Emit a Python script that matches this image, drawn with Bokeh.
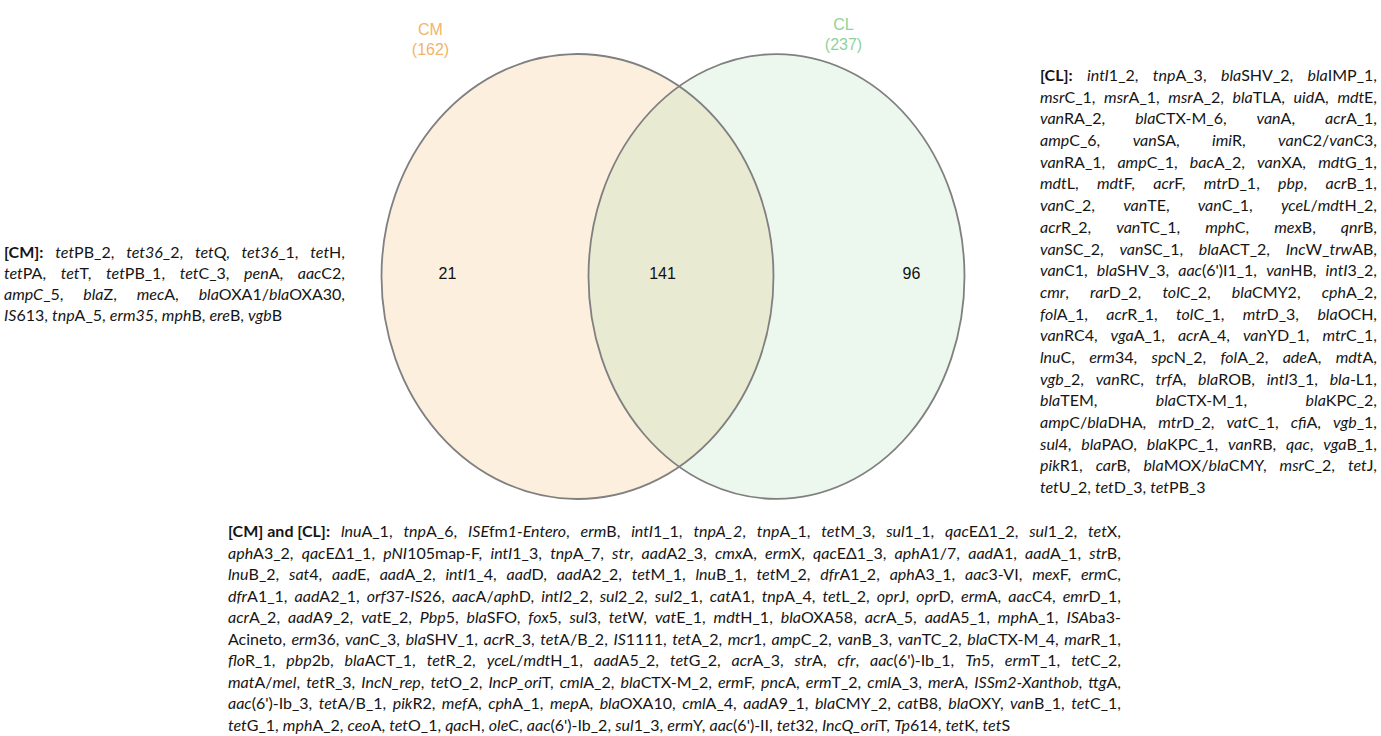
from bokeh.plotting import figure
from bokeh.models import Range1d, Div
from bokeh.layouts import row, column
from bokeh.core.properties import value
from bokeh.embed import file_html
from bokeh.resources import INLINE

# ---------------- data ----------------
set_names = ["CM", "CL"]
set_colors = ["#f2b46a", "#8fd39b"]

# genes only in CM (text between * is italic)
cm_only_lines = [
    ["*tet*PB_2", "*tet36*_2", "*tet*Q", "*tet36*_1", "*tet*H"],
    ["*tet*PA", "*tet*T", "*tet*PB_1", "*tet*C_3", "*pen*A", "*aac*C2"],
    ["*ampC*_5", "*bla*Z", "*mec*A", "*bla*OXA1/*bla*OXA30"],
    ["*IS*613", "*tnp*A_5", "*erm35*", "*mph*B", "*ere*B", "*vgb*B"],
]

# genes only in CL
cl_only_lines = [
    ["*intI*1_2", "*tnp*A_3", "*bla*SHV_2", "*bla*IMP_1"],
    ["*msr*C_1", "*msr*A_1", "*msr*A_2", "*bla*TLA", "*uid*A", "*mdt*E"],
    ["*van*RA_2", "*bla*CTX-M_6", "*van*A", "*acr*A_1"],
    ["*amp*C_6", "*van*SA", "*imi*R", "*van*C2/*van*C3"],
    ["*van*RA_1", "*amp*C_1", "*bac*A_2", "*van*XA", "*mdt*G_1"],
    ["*mdt*L", "*mdt*F", "*acr*F", "*mtr*D_1", "*pbp*", "*acr*B_1"],
    ["*van*C_2", "*van*TE", "*van*C_1", "*yceL*/*mdt*H_2"],
    ["*acr*R_2", "*van*TC_1", "*mph*C", "*mex*B", "*qnr*B"],
    ["*van*SC_2", "*van*SC_1", "*bla*ACT_2", "*Inc*W_*trw*AB"],
    ["*van*C1", "*bla*SHV_3", "*aac*(6')I1_1", "*van*HB", "*intI*3_2"],
    ["*cmr*", "*rar*D_2", "*tol*C_2", "*bla*CMY2", "*cph*A_2"],
    ["*fol*A_1", "*acr*R_1", "*tol*C_1", "*mtr*D_3", "*bla*OCH"],
    ["*van*RC4", "*vga*A_1", "*acr*A_4", "*van*YD_1", "*mtr*C_1"],
    ["*lnu*C", "*erm*34", "*spc*N_2", "*fol*A_2", "*ade*A", "*mdt*A"],
    ["*vgb*_2", "*van*RC", "*trf*A", "*bla*ROB", "*intI*3_1", "*bla*-L1"],
    ["*bla*TEM", "*bla*CTX-M_1", "*bla*KPC_2"],
    ["*amp*C/*bla*DHA", "*mtr*D_2", "*vat*C_1", "*cfi*A", "*vgb*_1"],
    ["*sul*4", "*bla*PAO", "*bla*KPC_1", "*van*RB", "*qac*", "*vga*B_1"],
    ["*pik*R1", "*car*B", "*bla*MOX/*bla*CMY", "*msr*C_2", "*tet*J"],
    ["*tet*U_2", "*tet*D_3", "*tet*PB_3"],
]

# genes shared by CM and CL
shared_lines = [
    ["*lnu*A_1", "*tnp*A_6", "*ISE*fm*1-Entero*", "*erm*B", "*intI*1_1", "*tnpA_2*", "*tnp*A_1",
     "*tet*M_3", "*sul*1_1", "*qac*E\u03941_2", "*sul*1_2", "*tet*X"],
    ["*aph*A3_2", "*qac*E\u03941_1", "*pNI*105map-F", "*intI*1_3", "*tnp*A_7", "*str*", "*aad*A2_3",
     "*cmx*A", "*erm*X", "*qac*E\u03941_3", "*aph*A1/7", "*aad*A1", "*aad*A_1", "*str*B"],
    ["*lnu*B_2", "*sat*4", "*aad*E", "*aad*A_2", "*intI*1_4", "*aad*D", "*aad*A2_2", "*tet*M_1",
     "*lnu*B_1", "*tet*M_2", "*dfr*A1_2", "*aph*A3_1", "*aac*3-VI", "*mex*F", "*erm*C"],
    ["*dfr*A1_1", "*aad*A2_1", "*orf*37-*IS*26", "*aac*A/*aph*D", "*intI*2_2", "*sul*2_2", "*sul*2_1",
     "*cat*A1", "*tnp*A_4", "*tet*L_2", "*opr*J", "*opr*D", "*erm*A", "*aac*C4", "*emr*D_1"],
    ["*acr*A_2", "*aad*A9_2", "*vat*E_2", "*Pbp*5", "*bla*SFO", "*fox*5", "*sul*3", "*tet*W",
     "*vat*E_1", "*mdt*H_1", "*bla*OXA58", "*acr*A_5", "*aad*A5_1", "*mph*A_1", "*ISA*ba3-|"],
    ["Acineto", "*erm*36", "*van*C_3", "*bla*SHV_1", "*acr*R_3", "*tet*A/B_2", "*IS*1111", "*tet*A_2",
     "*mcr*1", "*amp*C_2", "*van*B_3", "*van*TC_2", "*bla*CTX-M_4", "*mar*R_1"],
    ["*flo*R_1", "*pbp*2b", "*bla*ACT_1", "*tet*R_2", "*yceL*/*mdt*H_1", "*aad*A5_2", "*tet*G_2",
     "*acr*A_3", "*str*A", "*cfr*", "*aac*(6')-Ib_1", "*Tn*5", "*erm*T_1", "*tet*C_2"],
    ["*mat*A/*mel*", "*tet*R_3", "*IncN_rep*", "*tet*O_2", "*IncP_ori*T", "*cml*A_2", "*bla*CTX-M_2",
     "*erm*F", "*pnc*A", "*erm*T_2", "*cml*A_3", "*mer*A", "*ISSm2-Xanthob*", "*ttg*A"],
    ["*aac*(6')-Ib_3", "*tet*A/B_1", "*pik*R2", "*mef*A", "*cph*A_1", "*mep*A", "*bla*OXA10",
     "*cml*A_4", "*aad*A9_1", "*bla*CMY_2", "*cat*B8", "*bla*OXY", "*van*B_1", "*tet*C_1"],
    ["*tet*G_1", "*mph*A_2", "*ceo*A", "*tet*O_1", "*qac*H", "*ole*C", "*aac*(6')-Ib_2", "*sul*1_3",
     "*erm*Y", "*aac*(6')-II", "*tet*32", "*IncQ_ori*T", "*Tp*614", "*tet*K", "*tet*S"],
]

def count(lines):
    return sum(1 for ln in lines for g in ln if g != "Acineto")

n_cm_only = count(cm_only_lines)
n_cl_only = count(cl_only_lines)
n_shared = count(shared_lines)
set_totals = [n_cm_only + n_shared, n_cl_only + n_shared]
region_counts = [n_cm_only, n_shared, n_cl_only]

# ---------------- layout constants ----------------
FONT = "Lato"
FS = 16
LEFT_W, FIG_W, RIGHT_W = 355, 680, 346
TOP_H = 520
BOTTOM_H = 215


def fmt(token):
    parts = token.split("*")
    out = ""
    for i, part in enumerate(parts):
        if not part:
            continue
        out += f"<i>{part}</i>" if i % 2 == 1 else part
    return out


def block_html(lines, lead, width, pad_top, pad_left, line_h):
    rows = []
    n = len(lines)
    for li, ln in enumerate(lines):
        spans = []
        if li == 0:
            spans.append(f"<b>{lead}</b>")
        for gi, g in enumerate(ln):
            hyphen_break = g.endswith("|")
            g2 = g[:-1] if hyphen_break else g
            is_last = (li == n - 1 and gi == len(ln) - 1)
            txt = fmt(g2) + ("" if (is_last or hyphen_break) else ",")
            spans.append(f"<span>{txt}</span>")
        if li < n - 1:
            rows.append(
                f'<div style="display:flex;justify-content:space-between;white-space:nowrap;height:{line_h}px">'
                + "".join(spans) + "</div>")
        else:
            rows.append(f'<div style="white-space:nowrap;height:{line_h}px">' + " ".join(spans) + "</div>")
    return (f'<div style="font-family:{FONT};font-size:{FS}px;line-height:{line_h}px;color:#151515;'
            f'width:{width}px;margin-top:{pad_top}px;margin-left:{pad_left}px">' + "".join(rows) + "</div>")


left_div = Div(text=block_html(cm_only_lines, "[CM]:", 341, 241, 4, 21.0),
               width=LEFT_W, height=TOP_H, margin=0)
right_div = Div(text=block_html(cl_only_lines, "[CL]:", 337, 64, 5, 21.7),
                width=RIGHT_W, height=TOP_H, margin=0)
bottom_div = Div(text=block_html(shared_lines, "[CM] and [CL]:", 893, 0, 228, 21.5),
                 width=LEFT_W + FIG_W + RIGHT_W, height=BOTTOM_H, margin=0)

# ---------------- venn figure ----------------
p = figure(width=FIG_W, height=TOP_H, x_range=Range1d(0, FIG_W), y_range=Range1d(TOP_H, 0),
           x_axis_type=None, y_axis_type=None, toolbar_location=None, output_backend="svg",
           min_border=0, outline_line_color=None, margin=0)
p.grid.visible = False

cx = [222, 421]
cy = [276, 276]
ew = [392, 376]
eh = 445
alphas = [0.22, 0.17]
for i in range(2):
    p.ellipse(x=[cx[i]], y=[cy[i]], width=[ew[i]], height=[eh], fill_color=set_colors[i],
              fill_alpha=alphas[i], line_color=None)
for i in range(2):
    p.ellipse(x=[cx[i]], y=[cy[i]], width=[ew[i]], height=[eh], fill_color=None,
              line_color="#808080", line_width=1.8)

# set titles
title_x = [75, 488]
title_y = [29, 24]
for i in range(2):
    p.text(x=[title_x[i], title_x[i]], y=[title_y[i], title_y[i] + 20],
           text=[set_names[i], f"({set_totals[i]})"], text_color=set_colors[i],
           text_font=value("Liberation Sans"), text_font_size="16px",
           text_align="center", text_baseline="middle")

# region counts
count_x = [92, 307, 556]
p.text(x=count_x, y=[272, 272, 272], text=[str(c) for c in region_counts], text_color="#111111",
       text_font=value("Liberation Sans"), text_font_size="16px",
       text_align="center", text_baseline="middle")

layout = column(row(left_div, p, right_div), bottom_div)
open("out.html", "w").write(file_html(layout, INLINE))
